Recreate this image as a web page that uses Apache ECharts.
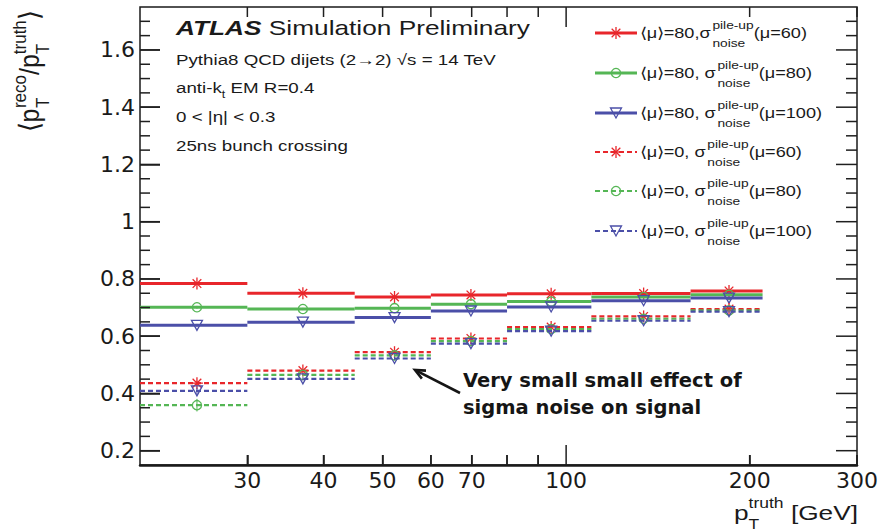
<!DOCTYPE html>
<html>
<head>
<meta charset="utf-8">
<script src="https://cdn.jsdelivr.net/npm/echarts@6/dist/echarts.min.js"></script>
<style>
  html, body { margin: 0; padding: 0; background: #fff; }
  #chart { width: 881px; height: 531px; }
</style>
</head>
<body>
<div id="chart"></div>
<script>
// pT^truth bin edges [GeV]
const binEdges = [20, 30, 45, 60, 80, 110, 160, 210];
// marker positions inside each bin [GeV]
const binCenters = [24.8, 37, 52.3, 69.8, 94.5, 134, 185];

// <pT reco / pT truth> per bin
const mu80Noise60  = [0.784, 0.750, 0.737, 0.744, 0.748, 0.749, 0.758];
const mu80Noise80  = [0.701, 0.695, 0.698, 0.712, 0.721, 0.737, 0.745];
const mu80Noise100 = [0.638, 0.649, 0.665, 0.688, 0.702, 0.724, 0.733];
const mu0Noise60   = [0.436, 0.480, 0.544, 0.592, 0.632, 0.669, 0.695];
const mu0Noise80   = [0.359, 0.465, 0.533, 0.583, 0.625, 0.661, 0.690];
const mu0Noise100  = [0.409, 0.451, 0.522, 0.574, 0.618, 0.654, 0.686];

// statistical uncertainties per bin
const mu80Noise60Err  = [0.005, 0.004, 0.004, 0.004, 0.004, 0.004, 0.004];
const mu80Noise80Err  = [0.005, 0.004, 0.004, 0.004, 0.004, 0.004, 0.004];
const mu80Noise100Err = [0.005, 0.004, 0.004, 0.004, 0.004, 0.004, 0.004];
const mu0Noise60Err   = [0.008, 0.005, 0.004, 0.004, 0.004, 0.004, 0.004];
const mu0Noise80Err   = [0.022, 0.006, 0.005, 0.004, 0.004, 0.004, 0.004];
const mu0Noise100Err  = [0.012, 0.006, 0.005, 0.004, 0.004, 0.004, 0.004];

// axis ranges, ticks and labels
const X_MIN = 20, X_MAX = 300;
const Y_MIN = 0.15, Y_MAX = 1.75;
const yMajorTicks = [0.2, 0.4, 0.6, 0.8, 1.0, 1.2, 1.4, 1.6];
const yMinorTicks = [0.25, 0.3, 0.35, 0.45, 0.5, 0.55, 0.65, 0.7, 0.75, 0.85, 0.9, 0.95,
                     1.05, 1.1, 1.15, 1.25, 1.3, 1.35, 1.45, 1.5, 1.55, 1.65, 1.7];
const xTickLabels = [30, 40, 50, 60, 70, 100, 200, 300];
const xShortTicks = [30, 40, 50, 60, 70, 80, 90, 200, 300];
const xLongTicks  = [100];

const RED = '#e8262b', GREEN = '#55b655', BLUE = '#4b4fa8';
const TXT = '#1a1a1a';
const TICK_COLOR = '#1f1f1f';
const FAM = '"Liberation Sans", Arial, sans-serif';
const STRETCH = 1.25;

const seriesDefs = [
  { values: mu80Noise60,  errs: mu80Noise60Err,  color: RED,   dashed: false, marker: 'asterisk', mu: '80', noise: '60',  comma: ',' },
  { values: mu80Noise80,  errs: mu80Noise80Err,  color: GREEN, dashed: false, marker: 'circle',   mu: '80', noise: '80',  comma: ', ' },
  { values: mu80Noise100, errs: mu80Noise100Err, color: BLUE,  dashed: false, marker: 'triangle', mu: '80', noise: '100', comma: ', ' },
  { values: mu0Noise60,   errs: mu0Noise60Err,   color: RED,   dashed: true,  marker: 'asterisk', mu: '0',  noise: '60',  comma: ', ' },
  { values: mu0Noise80,   errs: mu0Noise80Err,   color: GREEN, dashed: true,  marker: 'circle',   mu: '0',  noise: '80',  comma: ', ' },
  { values: mu0Noise100,  errs: mu0Noise100Err,  color: BLUE,  dashed: true,  marker: 'triangle', mu: '0',  noise: '100', comma: ', ' }
];

function lineStyle(def) {
  return def.dashed
    ? { stroke: def.color, lineWidth: 2.2, lineDash: [5, 3] }
    : { stroke: def.color, lineWidth: 3 };
}

function markerShapes(kind, x, y, color) {
  const st = () => ({ stroke: color, lineWidth: 1.3, fill: 'none' });
  if (kind === 'asterisk') {
    const r = 6, d = r * 0.72;
    return [
      { type: 'line', shape: { x1: x - r, y1: y, x2: x + r, y2: y }, style: st() },
      { type: 'line', shape: { x1: x, y1: y - r, x2: x, y2: y + r }, style: st() },
      { type: 'line', shape: { x1: x - d, y1: y - d, x2: x + d, y2: y + d }, style: st() },
      { type: 'line', shape: { x1: x - d, y1: y + d, x2: x + d, y2: y - d }, style: st() }
    ];
  }
  if (kind === 'circle') {
    return [{ type: 'circle', shape: { cx: x, cy: y, r: 4.6 }, style: st() }];
  }
  return [{ type: 'polygon', shape: { points: [[x - 5.5, y - 5], [x + 5.5, y - 5], [x, y + 5]] }, style: st() }];
}

function makeSeries(def) {
  const data = def.values.map((v, i) => [binEdges[i], binEdges[i + 1], binCenters[i], v, def.errs[i]]);
  return {
    type: 'custom',
    data: data,
    encode: { x: [0, 1, 2], y: [3] },
    renderItem: function (params, api) {
      const v = api.value(3), e = api.value(4);
      const lo = api.coord([api.value(0), v]);
      const hi = api.coord([api.value(1), v]);
      const c = api.coord([api.value(2), v]);
      const top = api.coord([api.value(2), v + e]);
      const bot = api.coord([api.value(2), v - e]);
      const children = [
        { type: 'line', shape: { x1: lo[0], y1: lo[1], x2: hi[0], y2: hi[1] }, style: lineStyle(def) },
        { type: 'line', shape: { x1: c[0], y1: top[1], x2: c[0], y2: bot[1] }, style: { stroke: def.color, lineWidth: 1 } }
      ].concat(markerShapes(def.marker, c[0], c[1], def.color));
      return { type: 'group', children: children };
    }
  };
}

// text layout helpers for sub/superscripts
const measureCtx = document.createElement('canvas').getContext('2d');
function textWidth(str, size, weight, style, family) {
  measureCtx.font = (style || 'normal') + ' ' + (weight || 'normal') + ' ' + size + 'px ' + family;
  return measureCtx.measureText(str).width;
}
function txt(str, x, y, size, weight, style, family, color) {
  return {
    type: 'text', x: x, y: y,
    style: {
      text: str, fill: color || TXT, fontSize: size, fontFamily: family,
      fontWeight: weight || 'normal', fontStyle: style || 'normal',
      align: 'left', verticalAlign: 'middle'
    }
  };
}
function formula(pieces, family) {
  family = family || FAM;
  let x = 0;
  const out = [];
  pieces.forEach(function (p) {
    if (p.sup !== undefined || p.sub !== undefined) {
      let w = 0;
      if (p.sup) { out.push(txt(p.sup, x, p.supDy, p.s, null, null, family)); w = Math.max(w, textWidth(p.sup, p.s, null, null, family)); }
      if (p.sub) { out.push(txt(p.sub, x, p.subDy, p.s, null, null, family)); w = Math.max(w, textWidth(p.sub, p.s, null, null, family)); }
      x += w;
    } else {
      out.push(txt(p.t, x, p.dy || 0, p.s, p.weight, p.style, family));
      x += textWidth(p.t, p.s, p.weight, p.style, family);
    }
  });
  return { children: out, width: x };
}
function textGroup(pieces, x, y) {
  const f = formula(pieces);
  return { type: 'group', x: x, y: y, scaleX: STRETCH, children: f.children };
}

function buildGraphics() {
  const g = [];
  // header block
  [
    { y: 27,  p: [{ t: 'ATLAS', s: 21, weight: 'bold', style: 'italic' }, { t: ' Simulation Preliminary', s: 21 }] },
    { y: 60,  p: [{ t: 'Pythia8 QCD dijets (2\u21922) \u221As = 14 TeV', s: 15 }] },
    { y: 88,  p: [{ t: 'anti-k', s: 15 }, { sub: 't', s: 10, subDy: 6 }, { t: ' EM R=0.4', s: 15 }] },
    { y: 117, p: [{ t: '0 < |\u03B7| < 0.3', s: 15 }] },
    { y: 146, p: [{ t: '25ns bunch crossing', s: 15 }] }
  ].forEach(function (row) { g.push(textGroup(row.p, 176, row.y)); });

  // legend
  const legendRows = [33, 73, 113, 152, 191, 231];
  seriesDefs.forEach(function (def, i) {
    const y = legendRows[i];
    const kids = [{ type: 'line', shape: { x1: 595, y1: y, x2: 637, y2: y }, style: lineStyle(def) }]
      .concat(markerShapes(def.marker, 616, y, def.color));
    g.push({ type: 'group', children: kids });
    g.push(textGroup([
      { t: '\u27E8\u03BC\u27E9=' + def.mu + def.comma + '\u03C3', s: 14.5 },
      { sup: 'pile-up', sub: 'noise', s: 11, supDy: -8, subDy: 10 },
      { t: '(\u03BC=' + def.noise + ')', s: 14.5 }
    ], 640, y));
  });

  // y-axis title, rotated
  const fy = formula([
    { t: '\u27E8p', s: 25 },
    { sup: 'reco', sub: 'T', s: 17, supDy: -9, subDy: 12 },
    { t: '/p', s: 25 },
    { sup: 'truth', sub: 'T', s: 17, supDy: -9, subDy: 12 },
    { t: '\u27E9', s: 25 }
  ]);
  g.push({ type: 'group', x: 30, y: 132, rotation: Math.PI / 2, scaleY: 1.1, children: fy.children });

  // x-axis title, right aligned to the frame
  const fx = formula([
    { t: 'p', s: 21 },
    { sup: 'truth', sub: 'T', s: 14, supDy: -9, subDy: 12 },
    { t: ' [GeV]', s: 21 }
  ]);
  g.push({ type: 'group', x: 858 - fx.width * STRETCH, y: 512, scaleX: STRETCH, children: fx.children });

  // annotation with arrow
  const NOTE_FONT = '"DejaVu Sans", sans-serif';
  g.push(txt('Very small small effect of', 463, 380, 19.5, 'bold', null, NOTE_FONT, '#151515'));
  g.push(txt('sigma noise on signal', 463, 407, 19.5, 'bold', null, NOTE_FONT, '#151515'));
  const x1 = 460, y1 = 393, x2 = 415, y2 = 370;
  const a = Math.atan2(y2 - y1, x2 - x1), L = 11, W = 0.42;
  g.push({ type: 'line', shape: { x1: x1, y1: y1, x2: x2 - Math.cos(a) * 3, y2: y2 - Math.sin(a) * 3 }, style: { stroke: '#151515', lineWidth: 2.6 } });
  g.push({ type: 'polyline', shape: { points: [
      [x2 - L * Math.cos(a - W), y2 - L * Math.sin(a - W)], [x2, y2], [x2 - L * Math.cos(a + W), y2 - L * Math.sin(a + W)]
    ] }, style: { stroke: '#151515', lineWidth: 2.6 } });
  return g;
}

// inward tick marks on all four frame sides, placed through the axis scales
function buildTicks(chart) {
  const toPx = (x, y) => chart.convertToPixel({ gridIndex: 0 }, [x, y]);
  const out = [];
  const st = () => ({ stroke: TICK_COLOR, lineWidth: 1.5 });
  function xTick(v, len) {
    const b = toPx(v, Y_MIN), t = toPx(v, Y_MAX);
    out.push({ type: 'line', z: 100, shape: { x1: b[0], y1: b[1], x2: b[0], y2: b[1] - len }, style: st() });
    out.push({ type: 'line', z: 100, shape: { x1: t[0], y1: t[1], x2: t[0], y2: t[1] + len }, style: st() });
  }
  function yTick(v, len) {
    const l = toPx(X_MIN, v), r = toPx(X_MAX, v);
    out.push({ type: 'line', z: 100, shape: { x1: l[0], y1: l[1], x2: l[0] + len, y2: l[1] }, style: st() });
    out.push({ type: 'line', z: 100, shape: { x1: r[0], y1: r[1], x2: r[0] - len - 1, y2: r[1] }, style: st() });
  }
  xShortTicks.forEach(v => xTick(v, 10));
  xLongTicks.forEach(v => xTick(v, 20));
  yMajorTicks.forEach(v => yTick(v, 20));
  yMinorTicks.forEach(v => yTick(v, 10));
  return out;
}

function fmtY(v) { return String(+v.toFixed(2)); }

// SVG output keeps every element, including the thin frame ticks
const chart = echarts.init(document.getElementById('chart'), null, { renderer: 'svg' });
chart.setOption({
  animation: false,
  grid: { left: 140, right: 19, top: 7, bottom: 66, show: true, borderColor: '#1a1a1a', borderWidth: 1.5 },
  xAxis: {
    type: 'log', logBase: 10, min: X_MIN, max: X_MAX,
    axisLine: { show: true, lineStyle: { color: '#1a1a1a', width: 2.5 } },
    axisTick: { show: true, inside: true, length: 10, customValues: xShortTicks, lineStyle: { color: TICK_COLOR, width: 1.5 } },
    axisLabel: { show: true, customValues: xTickLabels, fontFamily: '"DejaVu Sans", sans-serif', fontSize: 22, color: TXT, margin: 4 },
    splitLine: { show: false }
  },
  yAxis: {
    type: 'value', min: Y_MIN, max: Y_MAX,
    axisLine: { show: false },
    axisTick: { show: true, inside: true, length: 20, customValues: yMajorTicks, lineStyle: { color: TICK_COLOR, width: 1.5 } },
    axisLabel: { show: true, customValues: yMajorTicks, formatter: fmtY, fontFamily: '"DejaVu Sans", sans-serif', fontSize: 22, color: TXT, margin: 5 },
    splitLine: { show: false }
  },
  series: seriesDefs.map(makeSeries)
});
chart.setOption({ graphic: buildTicks(chart).concat(buildGraphics()) });
</script>
</body>
</html>
